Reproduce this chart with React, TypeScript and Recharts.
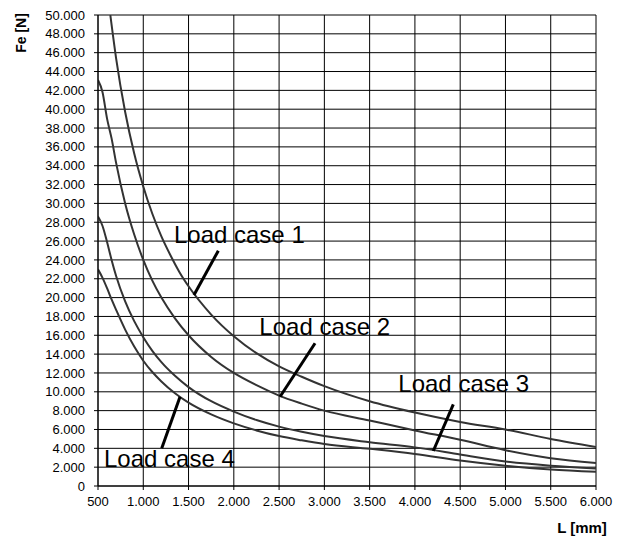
import React from "react";
import {
  CartesianGrid,
  Line,
  LineChart,
  ReferenceDot,
  ReferenceLine,
  XAxis,
  YAxis,
} from "recharts";

// Buckling force Fe [N] against length L [mm].
const L_TICKS = [500, 1000, 1500, 2000, 2500, 3000, 3500, 4000, 4500, 5000, 5500, 6000];
const FE_TICKS = [
  0, 2000, 4000, 6000, 8000, 10000, 12000, 14000, 16000, 18000, 20000, 22000, 24000,
  26000, 28000, 30000, 32000, 34000, 36000, 38000, 40000, 42000, 44000, 46000, 48000, 50000,
];

const CASE_1 = [
  [636, 50000], [700, 45400], [800, 39700], [900, 35300], [1000, 31800], [1100, 28900],
  [1200, 26500], [1300, 24500], [1400, 22700], [1500, 21200], [1750, 18200], [2000, 15900],
  [2250, 14100], [2500, 12700], [2750, 11600], [3000, 10600], [3500, 9000], [4000, 7800],
  [4500, 6800], [5000, 6000], [5500, 5000], [6000, 4150],
];
const CASE_2 = [
  [500, 43100], [550, 41800], [600, 39000], [650, 36900], [700, 34300], [800, 30000],
  [900, 26700], [1000, 24000], [1100, 21800], [1200, 20000], [1350, 17800], [1500, 16000],
  [1750, 13700], [2000, 12000], [2250, 10700], [2500, 9600], [2750, 8750], [3000, 8000],
  [3500, 6950], [4000, 5900], [4500, 4900], [5000, 3800], [5500, 2950], [6000, 2450],
];
const CASE_3 = [
  [500, 28600], [550, 27600], [600, 25900], [650, 24000], [700, 22300], [800, 19600],
  [900, 17500], [1000, 15800], [1100, 14350], [1200, 13150], [1350, 11700], [1500, 10500],
  [1750, 9000], [2000, 7900], [2250, 7000], [2500, 6300], [2750, 5750], [3000, 5300],
  [3500, 4650], [4000, 4100], [4500, 3350], [5000, 2600], [5500, 2150], [6000, 1850],
];
const CASE_4 = [
  [500, 23000], [550, 22100], [600, 21000], [650, 19800], [700, 18700], [800, 16600],
  [900, 14800], [1000, 13300], [1100, 12100], [1200, 11100], [1350, 9850], [1500, 8850],
  [1750, 7600], [2000, 6650], [2250, 5900], [2500, 5300], [2750, 4850], [3000, 4450],
  [3500, 3950], [4000, 3400], [4500, 2700], [5000, 2150], [5500, 1750], [6000, 1500],
];

// annotations: text anchor (left, baseline) and leader line, in data units
const LABELS = ["Load case 1", "Load case 2", "Load case 3", "Load case 4"];
const LABEL_AT = [[1339, 25800], [2282, 16030], [3817, 10010], [566, 2050]];
const LEADERS = [
  [[1829, 24980], [1560, 20280]],
  [[2897, 15150], [2510, 9480]],
  [[4424, 8670], [4203, 3715]],
  [[1406, 9480], [1204, 4000]],
];

const FONT = "Arial, 'Liberation Sans', sans-serif";
const toRows = (pts: number[][]) => pts.map(([L, v]) => ({ L, v }));
const fmt = (n: number) => String(n).replace(/\B(?=(\d{3})+(?!\d))/g, ".");

const SERIES = [CASE_1, CASE_2, CASE_3, CASE_4];

export default function App() {
  return (
    <div style={{ position: "absolute", left: 0, top: 0, width: 622, height: 536, fontFamily: FONT }}>
      <LineChart width={622} height={536} margin={{ top: 15, right: 26, bottom: 0, left: 0 }}>
        <CartesianGrid stroke="#000" strokeWidth={1} />
        <XAxis
          dataKey="L"
          type="number"
          domain={[500, 6000]}
          ticks={L_TICKS}
          interval={0}
          allowDataOverflow
          height={50}
          tickFormatter={fmt}
          tickSize={4}
          tickMargin={7}
          stroke="#000"
          tick={{ fill: "#000", fontSize: 13, fontFamily: FONT }}
        />
        <YAxis
          type="number"
          domain={[0, 50000]}
          ticks={FE_TICKS}
          interval={0}
          allowDataOverflow
          width={98}
          tickFormatter={fmt}
          tickSize={4}
          tickMargin={9}
          stroke="#000"
          tick={{ fill: "#000", fontSize: 13, fontFamily: FONT }}
        />
        {SERIES.map((s, i) => (
          <Line
            key={i}
            data={toRows(s)}
            dataKey="v"
            type="monotone"
            stroke="#333"
            strokeWidth={2}
            dot={false}
            isAnimationActive={false}
          />
        ))}
        {LEADERS.map((seg, i) => (
          <ReferenceLine
            key={"l" + i}
            segment={[
              { x: seg[0][0], y: seg[0][1] },
              { x: seg[1][0], y: seg[1][1] },
            ]}
            stroke="#000"
            strokeWidth={3}
          />
        ))}
        {LABELS.map((t, i) => (
          <ReferenceDot
            key={"t" + i}
            x={LABEL_AT[i][0]}
            y={LABEL_AT[i][1]}
            r={0}
            shape={(p: any) => (
              <text x={p.cx} y={p.cy} fontSize={24} fontFamily={FONT} fill="#000">
                {t}
              </text>
            )}
          />
        ))}
      </LineChart>
      <div
        style={{
          position: "absolute",
          left: 21,
          top: 33,
          transform: "translate(-50%, -50%) rotate(-90deg)",
          fontSize: 14,
          fontWeight: "bold",
          whiteSpace: "nowrap",
        }}
      >
        Fe [N]
      </div>
      <div
        style={{
          position: "absolute",
          left: 582,
          top: 527,
          transform: "translate(-50%, -50%)",
          fontSize: 15,
          fontWeight: "bold",
          whiteSpace: "nowrap",
        }}
      >
        L [mm]
      </div>
    </div>
  );
}
